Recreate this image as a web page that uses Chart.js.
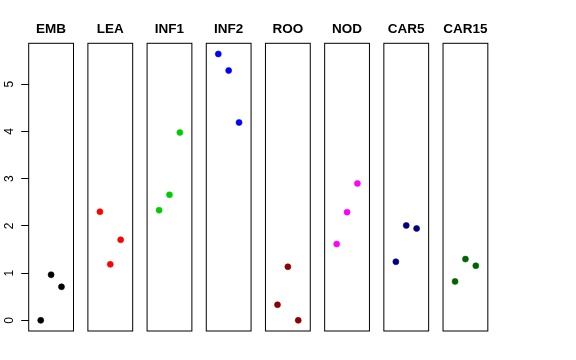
<!DOCTYPE html>
<html><head><meta charset="utf-8">
<script src="https://cdn.jsdelivr.net/npm/chart.js@4/dist/chart.umd.min.js"></script>
<style>
html,body{margin:0;padding:0;background:#fff;}
#wrap{position:relative;width:576px;height:360px;overflow:hidden;}
#wrap canvas{position:absolute;left:0;top:0;}
</style></head><body><div id="wrap"></div>
<script>
const categories = ['EMB','LEA','INF1','INF2','ROO','NOD','CAR5','CAR15'];
const xValues = [1, 2, 3];
const embValues  = [0.00, 0.965, 0.71];
const leaValues  = [2.30, 1.185, 1.705];
const inf1Values = [2.333, 2.657, 3.977];
const inf2Values = [5.64, 5.289, 4.189];
const rooValues  = [0.33, 1.134, 0.00];
const nodValues  = [1.614, 2.291, 2.898];
const car5Values = [1.24, 2.01, 1.946];
const car15Values = [0.825, 1.297, 1.155];
const seriesValues = [embValues, leaValues, inf1Values, inf2Values, rooValues, nodValues, car5Values, car15Values];
const seriesColors = ['#000000','#FF0000','#00CD00','#0000FF','#8B0000','#FF00FF','#000080','#006400'];
const yTicks = [0, 1, 2, 3, 4, 5];
const yRange = [-0.2256, 5.8656];
const xRange = [-0.16, 4.16];

const FONT = "'Liberation Sans', Arial, Helvetica, sans-serif";
const W = 576, H = 360;
const firstLeft = 28.7, panelStep = 59.19, panelW = 44.8;

const boxPlugin = {
  id: 'box',
  afterDraw(chart) {
    const {ctx, chartArea: a} = chart;
    ctx.save();
    ctx.strokeStyle = '#000';
    ctx.lineWidth = 1;
    ctx.strokeRect(a.left, a.top, a.right - a.left, a.bottom - a.top);
    ctx.restore();
  }
};

const wrap = document.getElementById('wrap');
categories.forEach((cat, i) => {
  const c = document.createElement('canvas');
  c.width = W; c.height = H;
  c.style.width = W + 'px'; c.style.height = H + 'px';
  wrap.appendChild(c);
  const left = firstLeft + i * panelStep;
  const right = left + panelW;
  const first = i === 0;
  const yScale = {
    type: 'linear', min: yRange[0], max: yRange[1],
    display: first,
    position: 'left',
    afterBuildTicks: s => { s.ticks = yTicks.map(v => ({value: v})); },
    border: {display: false},
    grid: {drawOnChartArea: false, drawTicks: true, tickLength: 7.5, color: '#000', tickWidth: 1},
    ticks: {
      color: '#000', font: {family: FONT, size: 12},
      minRotation: 90, maxRotation: 90, crossAlign: 'center', padding: 8,
      autoSkip: false
    }
  };
  if (first) yScale.afterFit = s => { s.width = firstLeft; };
  new Chart(c, {
    type: 'scatter',
    data: {
      datasets: [{
        data: xValues.map((x, k) => ({x: x, y: seriesValues[i][k]})),
        backgroundColor: seriesColors[i],
        borderColor: seriesColors[i],
        pointRadius: 3,
        pointBorderWidth: 0.6,
        pointHoverRadius: 3,
        clip: false
      }]
    },
    options: {
      responsive: false,
      animation: false,
      devicePixelRatio: 1,
      events: [],
      layout: {padding: {left: first ? 0 : left, right: W - right, top: 0, bottom: 29}},
      plugins: {
        legend: {display: false},
        tooltip: {enabled: false},
        title: {
          display: true, text: cat, color: '#000', fullSize: false,
          font: {family: FONT, size: 13.5, weight: 'bold', lineHeight: 1.2},
          padding: {top: 21.2, bottom: 5.9}
        }
      },
      scales: {
        x: {type: 'linear', min: xRange[0], max: xRange[1], display: false},
        y: yScale
      }
    },
    plugins: [boxPlugin]
  });
});
</script></body></html>
